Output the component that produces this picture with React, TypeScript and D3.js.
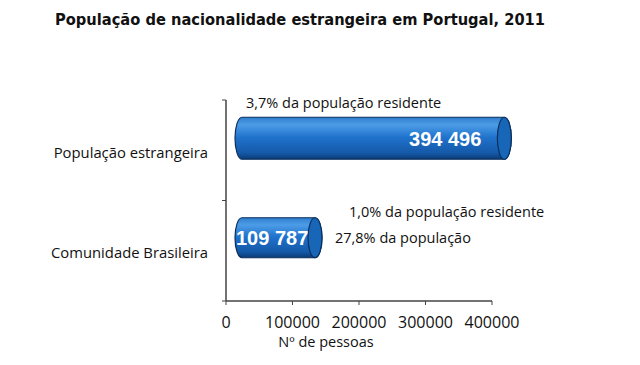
import React, { useEffect, useRef } from "react";
import * as d3 from "d3";

const categories = ["População estrangeira", "Comunidade Brasileira"];
const values = [394496, 109787];
const valueLabels = ["394 496", "109 787"];
const xTicks = [0, 100000, 200000, 300000, 400000];
const notes = [
  ["3,7% da população residente"],
  ["1,0% da população residente", "27,8% da população"],
];

export default function App() {
  const ref = useRef<SVGSVGElement | null>(null);

  useEffect(() => {
    const width = 640;
    const height = 365;
    const margin = { top: 100, right: 148, bottom: 64, left: 226 };
    const h = height - margin.top - margin.bottom;

    const svg = d3.select(ref.current);
    svg.selectAll("*").remove();
    svg.attr("viewBox", `0 0 ${width} ${height}`);

    svg.append("rect").attr("width", width).attr("height", height).attr("fill", "#fff");

    const font = "'Open Sans', sans-serif";

    svg.append("text")
      .attr("x", 55).attr("y", 25)
      .attr("font-family", "'DejaVu Sans', Verdana, sans-serif")
      .attr("font-weight", "bold").attr("font-size", 15)
      .attr("textLength", 490).attr("lengthAdjust", "spacingAndGlyphs")
      .attr("fill", "#111")
      .text("População de nacionalidade estrangeira em Portugal, 2011");

    const g = svg.append("g").attr("transform", `translate(${margin.left},${margin.top})`);

    const x = d3.scaleLinear().domain([0, 400000]).range([0, 266]);
    const y = d3.scaleBand().domain(categories).range([0, h]);

    // gradient for the cylinders
    const defs = svg.append("defs");
    const grad = defs.append("linearGradient").attr("id", "cyl").attr("x1", "0").attr("x2", "0").attr("y1", "0").attr("y2", "1");
    grad.append("stop").attr("offset", "0%").attr("stop-color", "#2f7fd0");
    grad.append("stop").attr("offset", "18%").attr("stop-color", "#4c9ce6");
    grad.append("stop").attr("offset", "48%").attr("stop-color", "#1f72cc");
    grad.append("stop").attr("offset", "85%").attr("stop-color", "#1559a8");
    grad.append("stop").attr("offset", "100%").attr("stop-color", "#0b3a75");

    // axes
    const axisColor = "#444";
    g.append("line").attr("x1", 0).attr("x2", 0).attr("y1", 0).attr("y2", h).attr("stroke", axisColor).attr("stroke-width", 1.5);
    g.append("line").attr("x1", 0).attr("x2", x(400000)).attr("y1", h).attr("y2", h).attr("stroke", axisColor).attr("stroke-width", 1.5);
    [0, y.bandwidth(), h].forEach(t => {
      g.append("line").attr("x1", -4).attr("x2", 0).attr("y1", t).attr("y2", t).attr("stroke", axisColor);
    });
    xTicks.forEach(t => {
      g.append("line").attr("x1", x(t)).attr("x2", x(t)).attr("y1", h).attr("y2", h + 4).attr("stroke", axisColor);
      g.append("text").attr("x", x(t)).attr("y", h + 27).attr("text-anchor", "middle")
        .attr("font-family", font).attr("font-size", 16).attr("fill", "#111").text(d3.format("d")(t));
    });
    g.append("text").attr("x", 100).attr("y", h + 46).attr("text-anchor", "middle")
      .attr("font-family", font).attr("font-size", 14.5).attr("fill", "#111").text("Nº de pessoas");

    categories.forEach((c, i) => {
      g.append("text").attr("x", -18).attr("y", (y(c) as number) + y.bandwidth() / 2 + (i === 0 ? 8 : 7)).attr("text-anchor", "end")
        .attr("font-family", font).attr("font-size", 14.8).attr("fill", "#111").text(c);
    });

    // 3D cylinders (shifted for depth)
    const dx = 16;
    const rx = 7;
    const bh = [42, 40];
    const dy = [-12, -13];
    values.forEach((v, i) => {
      const cy = (y(categories[i]) as number) + y.bandwidth() / 2 + dy[i];
      const x0 = x(0) + dx;
      const x1 = x(v) + dx;
      const top = cy - bh[i] / 2;
      const ry = bh[i] / 2;
      const path = `M${x0},${top} L${x1},${top} A${rx},${ry} 0 0 1 ${x1},${top + bh[i]} L${x0},${top + bh[i]} A${rx},${ry} 0 0 1 ${x0},${top} Z`;
      g.append("path").attr("d", path).attr("fill", "url(#cyl)").attr("stroke", "#0a2f5c").attr("stroke-width", 1.2);
      g.append("ellipse").attr("cx", x1).attr("cy", cy).attr("rx", rx).attr("ry", ry)
        .attr("fill", "#1866b8").attr("stroke", "#0a2f5c").attr("stroke-width", 1.2);
      const lx = i === 0 ? x1 - 23 : x0 - rx + 1;
      g.append("text").attr("x", lx).attr("y", cy + 7.5).attr("text-anchor", i === 0 ? "end" : "start")
        .attr("font-family", "Arial, 'Liberation Sans', sans-serif").attr("font-weight", "bold")
        .attr("font-size", 20).attr("fill", "#fff").text(valueLabels[i]);
    });

    // notes
    g.append("text").attr("x", 20).attr("y", 8).attr("font-family", font).attr("font-size", 14.5).attr("fill", "#111").text(notes[0][0]);
    g.append("text").attr("x", 123).attr("y", 117).attr("font-family", font).attr("font-size", 14.5).attr("fill", "#111").text(notes[1][0]);
    g.append("text").attr("x", 109).attr("y", 143).attr("font-family", font).attr("font-size", 14.5).attr("fill", "#111").text(notes[1][1]);
  }, []);

  return (
    <div style={{ position: "absolute", left: 0, top: 0, width: 640, height: 365 }}>
      <svg ref={ref} width={640} height={365} style={{ display: "block" }} />
    </div>
  );
}
